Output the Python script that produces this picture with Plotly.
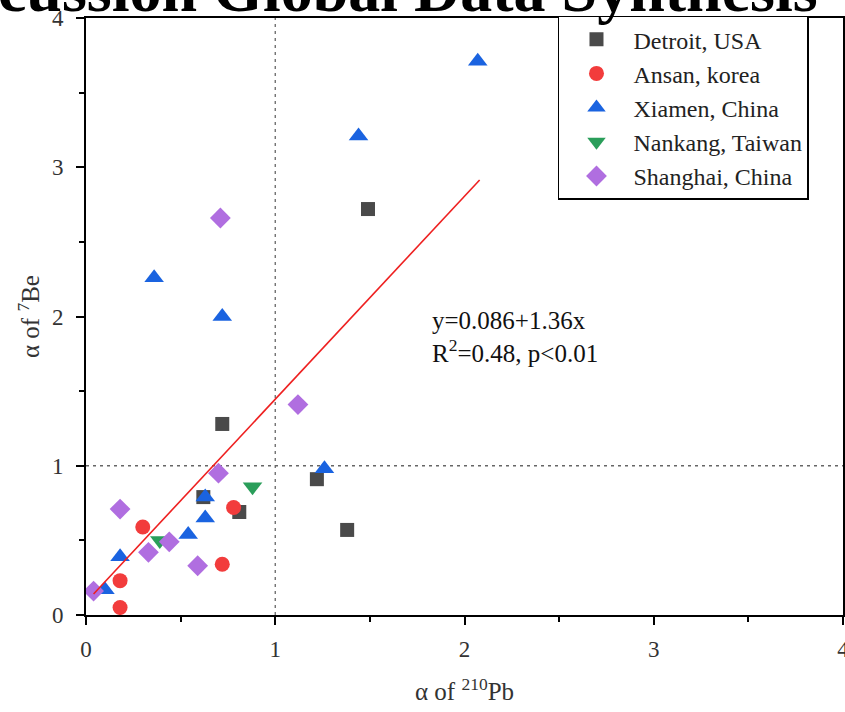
import plotly.graph_objects as go

# ---- data ----
detroit_x = [0.72, 0.62, 0.81, 1.22, 1.38, 1.49]
detroit_y = [1.28, 0.79, 0.69, 0.91, 0.57, 2.72]

ansan_x = [0.30, 0.78, 0.72, 0.18, 0.18]
ansan_y = [0.59, 0.72, 0.34, 0.23, 0.05]

xiamen_x = [2.07, 1.44, 0.36, 0.72, 1.26, 0.63, 0.63, 0.54, 0.18, 0.10]
xiamen_y = [3.71, 3.21, 2.26, 2.00, 0.98, 0.79, 0.65, 0.54, 0.39, 0.17]

nankang_x = [0.88, 0.39]
nankang_y = [0.86, 0.50]

shanghai_x = [0.71, 1.12, 0.70, 0.18, 0.33, 0.44, 0.59, 0.04]
shanghai_y = [2.66, 1.41, 0.95, 0.71, 0.42, 0.49, 0.33, 0.16]

fit_intercept = 0.086
fit_slope = 1.36
fit_x = [0.04, 2.08]
fit_y = [fit_intercept + fit_slope * v for v in fit_x]

tick_vals = [0, 1, 2, 3, 4]

FONT = "Liberation Serif"

fig = go.Figure()

series = [
    ("Detroit, USA", detroit_x, detroit_y, "square", "#4a4a4a", 14),
    ("Ansan, korea", ansan_x, ansan_y, "circle", "#f23c3c", 15),
    ("Xiamen, China", xiamen_x, xiamen_y, "triangle-up", "#1a63e0", 17),
    ("Nankang, Taiwan", nankang_x, nankang_y, "triangle-down", "#2a9e5a", 17),
    ("Shanghai, China", shanghai_x, shanghai_y, "diamond", "#b06ee0", 16),
]
for name, xs, ys, sym, col, sz in series:
    fig.add_trace(go.Scatter(
        x=xs, y=ys, mode="markers", name=name,
        marker=dict(symbol=sym, color=col, size=sz, line=dict(width=0)),
    ))

fig.add_trace(go.Scatter(
    x=fit_x, y=fit_y, mode="lines", showlegend=False,
    line=dict(color="#ee2020", width=1.6),
))

# dashed reference lines at 1
fig.add_shape(type="line", xref="x", yref="paper", x0=1, x1=1, y0=0, y1=1,
              line=dict(color="#666666", width=1.3, dash="3px,4px"), layer="below")
fig.add_shape(type="line", xref="paper", yref="y", x0=0, x1=1, y0=1, y1=1,
              line=dict(color="#666666", width=1.3, dash="3px,4px"), layer="below")

# regression text
fig.add_annotation(x=0.455, y=0.466, xref="paper", yref="paper",
                   text="y=0.086+1.36x<br>R<sup>2</sup>=0.48, p<0.01",
                   showarrow=False, align="left", xanchor="left", yanchor="middle",
                   font=dict(family=FONT, size=25, color="#111111"))

# title, overflowing the top of the page
fig.add_annotation(x=0.969, y=1.048, xref="paper", yref="paper",
                   text="<b>Discussion Global Data Synthesis</b>",
                   showarrow=False, xanchor="right", yanchor="middle",
                   font=dict(family=FONT, size=64, color="#000000"))

axis_common = dict(
    range=[0, 4], tickvals=tick_vals, ticktext=[str(v) for v in tick_vals],
    showgrid=False, zeroline=False, automargin=False,
    showline=True, linecolor="black", linewidth=2, mirror=True,
    ticks="outside", ticklen=8, tickwidth=1.5, tickcolor="black",
    ticklabeloverflow="allow",
    minor=dict(ticks="outside", ticklen=5, tickwidth=1.5, tickcolor="black", dtick=0.5, tick0=0, showgrid=False),
    tickfont=dict(family=FONT, size=23, color="#333333"),
)

fig.update_layout(
    width=845, height=712,
    margin=dict(l=86, r=2, t=18, b=97, autoexpand=False),
    plot_bgcolor="white", paper_bgcolor="white",
    showlegend=True,
    legend=dict(
        x=0.6235, y=1.004, xanchor="left", yanchor="top",
        bgcolor="white", bordercolor="black", borderwidth=1.5,
        font=dict(family=FONT, size=24, color="#222222"),
        itemwidth=64, tracegroupgap=0,
    ),
    xaxis=dict(**axis_common,
               title=dict(text="α of <sup>210</sup>Pb", font=dict(family=FONT, size=25, color="#333333"), standoff=22),
               ticklabelstandoff=4),
    yaxis=dict(**axis_common,
               title=dict(text="α of <sup>7</sup>Be", font=dict(family=FONT, size=25, color="#333333"), standoff=5),
               ticklabelstandoff=8),
)

fig.write_html("out.html", config={"displayModeBar": False},
               post_script="document.body.style.margin='0';")
